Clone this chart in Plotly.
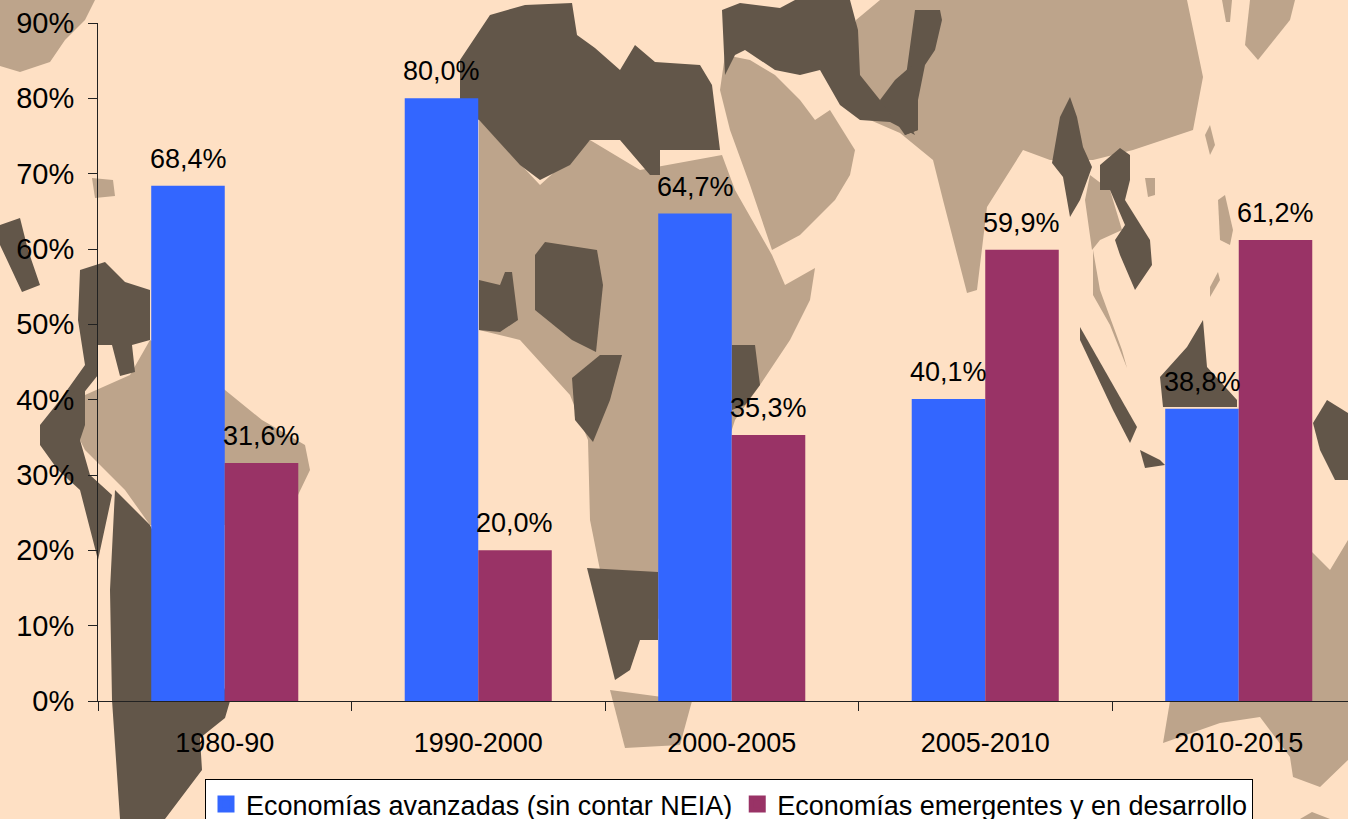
import plotly.graph_objects as go

# ---- data ----
categories = ["1980-90", "1990-2000", "2000-2005", "2005-2010", "2010-2015"]
avanzadas = [68.4, 80.0, 64.7, 40.1, 38.8]
emergentes = [31.6, 20.0, 35.3, 59.9, 61.2]
name_a = "Economías avanzadas (sin contar NEIA)"
name_b = "Economías emergentes y en desarrollo"

# ---- decorative backdrop (world-map silhouettes, pixel outlines) ----
W, H = 1348, 819
L, R, T, B = 98, 1348, 23, 701
TAN = "#BDA48B"
DARK = "#625649"
MAP_TAN = [
    [(0,0),(95,0),(85,20),(65,40),(50,62),(20,72),(0,66)],
    [(80,440),(85,395),(130,375),(150,340),(225,390),(262,420),(305,445),(310,470),(298,495),(250,525),(150,525),(125,490),(105,470),(85,450)],
    [(479,120),(540,185),(590,140),(640,170),(722,155),(735,190),(772,255),(785,285),(815,268),(810,300),(790,340),(760,385),(735,420),(690,560),(658,620),(600,570),(590,520),(588,440),(570,395),(520,340),(479,330)],
    [(610,690),(692,701),(680,745),(625,748)],
    [(725,55),(750,60),(775,75),(800,100),(815,120),(830,110),(855,150),(850,175),(835,200),(800,235),(772,250),(750,185),(730,130),(720,90)],
    [(856,20),(880,0),(1187,0),(1203,77),(1193,130),(1133,150),(1093,160),(1050,160),(1023,150),(987,207),(977,290),(967,293),(943,200),(933,160),(900,133),(870,120),(856,70)],
    [(1090,175),(1110,190),(1122,230),(1100,240),(1092,250),(1085,200)],
    [(1093,250),(1100,290),(1122,350),(1127,368),(1110,325),(1093,295)],
    [(1218,200),(1225,195),(1233,230),(1230,245),(1220,240)],
    [(1210,287),(1218,272),(1220,280),(1210,297)],
    [(1210,125),(1215,145),(1210,155),(1205,135)],
    [(1145,178),(1155,178),(1155,195),(1148,197)],
    [(1222,0),(1232,0),(1230,22),(1226,22)],
    [(1250,0),(1295,0),(1290,20),(1258,60),(1245,45)],
    [(1312,552),(1330,570),(1348,540),(1348,760),(1320,787),(1293,777),(1290,757),(1260,717),(1220,723),(1163,743),(1170,701),(1312,701)],
    [(1300,819),(1312,812),(1330,819)],
    [(92,178),(113,180),(115,196),(95,198)],
]
MAP_DARK = [
    [(0,225),(20,218),(28,250),(40,285),(22,292),(8,262),(0,245)],
    [(80,270),(105,262),(125,282),(150,290),(150,340),(132,345),(135,372),(120,376),(112,345),(98,345),(98,375),(82,395),(60,400),(85,365),(78,320)],
    [(40,425),(60,400),(85,385),(85,425),(80,440),(90,475),(112,495),(98,560),(80,490),(58,470),(40,445)],
    [(115,490),(150,525),(230,701),(225,718),(200,738),(202,770),(165,819),(120,819),(112,700),(110,590)],
    [(460,60),(490,15),(525,5),(572,3),(577,35),(595,48),(620,70),(635,45),(655,62),(700,65),(712,85),(720,150),(660,150),(660,175),(650,175),(620,140),(590,140),(570,165),(540,180),(520,165),(479,120),(460,110)],
    [(479,280),(500,285),(505,272),(512,272),(518,320),(500,332),(479,330)],
    [(535,255),(545,242),(597,250),(603,285),(596,352),(572,340),(535,310)],
    [(572,378),(600,355),(622,355),(610,400),(593,442),(575,420)],
    [(587,568),(658,572),(658,640),(640,640),(630,670),(615,680),(600,620)],
    [(732,345),(755,345),(760,385),(745,405),(732,410)],
    [(722,10),(740,3),(780,8),(795,0),(850,0),(858,30),(860,75),(880,100),(900,105),(915,135),(890,122),(860,120),(840,105),(820,70),(800,75),(775,70),(745,50),(735,55),(725,75)],
    [(915,10),(940,10),(942,20),(935,50),(925,65),(918,100),(918,130),(905,135),(900,120)],
    [(895,80),(918,60),(918,130),(905,135),(880,100)],
    [(1070,97),(1077,117),(1083,147),(1092,167),(1080,200),(1070,217),(1063,177),(1052,163),(1060,117)],
    [(1100,165),(1120,148),(1130,155),(1130,180),(1125,200),(1150,240),(1152,265),(1135,290),(1120,255),(1115,240),(1125,225),(1110,190),(1100,190)],
    [(1080,327),(1137,427),(1130,443),(1113,410),(1080,340)],
    [(1140,450),(1160,460),(1165,465),(1145,468)],
    [(1163,407),(1160,377),(1187,347),(1203,320),(1207,367),(1237,400),(1237,407)],
    [(1313,423),(1327,400),(1348,413),(1348,480),(1335,480),(1320,450)],
]


def outline(points):
    parts = []
    for i, (px, py) in enumerate(points):
        x = (px - L) / (R - L)
        y = (B - py) / (B - T)
        parts.append(("M" if i == 0 else "L") + f"{x:.5f},{y:.5f}")
    return " ".join(parts) + " Z"


shapes = []
for group, colour in ((MAP_TAN, TAN), (MAP_DARK, DARK)):
    for poly in group:
        shapes.append(dict(type="path", xref="paper", yref="paper", layer="below",
                           path=outline(poly), fillcolor=colour, line=dict(width=0)))

FONT = "Liberation Sans, Arial, sans-serif"
COL_A, COL_B = "#3366FF", "#993366"
fig = go.Figure()
annotations = []
for name, vals, colour, shift in ((name_a, avanzadas, COL_A, -36.5), (name_b, emergentes, COL_B, 36.5)):
    fig.add_trace(go.Bar(name=name, x=categories, y=vals, showlegend=False,
                         marker=dict(color=colour, line=dict(width=0))))
    # legend key only: same name and colour, drawn on a hidden overlay axis pair
    fig.add_trace(go.Bar(name=name, x=categories[:1], y=[None], xaxis="x2", yaxis="y2",
                         marker=dict(color=colour, line=dict(width=5, color=colour))))
    for c, v in zip(categories, vals):
        annotations.append(dict(x=c, y=v, xref="x", yref="y", text=f"{v:.1f}%".replace(".", ","),
                                showarrow=False, xshift=shift, yshift=10, yanchor="bottom",
                                font=dict(family=FONT, size=27, color="black")))

fig.update_layout(
    width=W, height=H, barmode="group", bargap=0.42, bargroupgap=0,
    paper_bgcolor="#FEE0C4", plot_bgcolor="rgba(0,0,0,0)",
    margin=dict(l=L, r=W - R, t=T, b=H - B, autoexpand=False, pad=0),
    font=dict(family=FONT, color="black"),
    shapes=shapes, annotations=annotations,
    showlegend=True,
    legend=dict(orientation="h", x=(205 - L) / (R - L), y=(B - 779) / (B - T),
                xanchor="left", yanchor="top", bgcolor="white", bordercolor="black",
                borderwidth=1, font=dict(family=FONT, size=27, color="black"),
                itemwidth=30, traceorder="normal"),
    xaxis=dict(type="category", range=[-0.5, (R - L) / 253.5 - 0.5], tickson="boundaries",
               ticks="outside", ticklen=9, tickcolor="#222222", showline=True, linecolor="#222222",
               linewidth=1, showgrid=False, zeroline=False, ticklabelstandoff=18,
               tickfont=dict(family=FONT, size=27, color="black")),
    yaxis=dict(range=[0, 90], tick0=0, dtick=10, ticksuffix="%", ticks="outside", ticklen=9,
               tickcolor="#222222", showline=True, linecolor="#222222", linewidth=1,
               showgrid=False, zeroline=False, ticklabelstandoff=8,
               tickfont=dict(family=FONT, size=29, color="black")),
    xaxis2=dict(visible=False, overlaying="x", type="category"),
    yaxis2=dict(visible=False, overlaying="y", range=[0, 90]),
)
fig.write_html("out.html", config=dict(displayModeBar=False),
               post_script="document.body.style.margin='0';document.body.style.overflow='hidden';")
